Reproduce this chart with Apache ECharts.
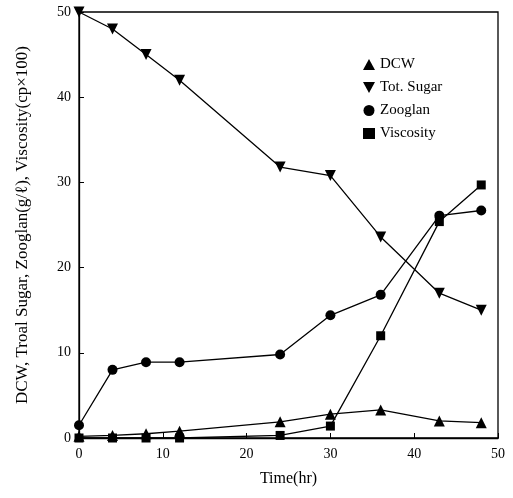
<!DOCTYPE html>
<html>
<head>
<meta charset="utf-8">
<script src="https://cdn.jsdelivr.net/npm/echarts@6/dist/echarts.min.js"></script>
<style>
  html, body { margin: 0; padding: 0; background: #fff; }
  #chart { width: 513px; height: 498px; }
</style>
</head>
<body>
<div id="chart"></div>
<script>
// sampling times (hr)
const times = [0, 4, 8, 12, 24, 30, 36, 43, 48]
const dcw = [0.2, 0.3, 0.5, 0.8, 1.9, 2.8, 3.3, 2.0, 1.8]
const totSugar = [50, 48, 45, 42, 31.8, 30.8, 23.6, 17, 15]
const zooglan = [1.5, 8, 8.9, 8.9, 9.8, 14.4, 16.8, 26.1, 26.7]
const viscosity = [0, 0, 0, 0, 0.3, 1.4, 12, 25.4, 29.7]
const xTicks = [0, 10, 20, 30, 40, 50]
const yTicks = [0, 10, 20, 30, 40, 50]

const font = 'Liberation Serif'
const downTri = 'path://M0,0L10,0L5,9Z'

function pairs(vals) {
  return times.map((t, i) => [t, vals[i]])
}

function series(name, vals, symbol, size, rotate) {
  return {
    name: name,
    type: 'line',
    data: pairs(vals),
    symbol: symbol,
    symbolSize: size,
    symbolRotate: rotate || 0,
    showAllSymbol: true,
    lineStyle: { color: '#000', width: 1.3 },
    itemStyle: { color: '#000' },
    z: 3
  }
}

const chart = echarts.init(document.getElementById('chart'))
chart.setOption({
  animation: false,
  grid: {
    left: 79, right: 15, top: 12, bottom: 60,
    show: true, borderColor: '#000', borderWidth: 1.3
  },
  legend: {
    orient: 'vertical',
    left: 358, top: 52,
    itemWidth: 12, itemHeight: 11, itemGap: 8,
    textStyle: { fontFamily: font, fontSize: 15, color: '#000' },
    data: [
      { name: 'DCW', icon: 'triangle' },
      { name: 'Tot. Sugar', icon: downTri },
      { name: 'Zooglan', icon: 'circle' },
      { name: 'Viscosity', icon: 'rect' }
    ]
  },
  xAxis: {
    type: 'value',
    min: xTicks[0], max: xTicks[xTicks.length - 1], interval: 10,
    name: 'Time(hr)',
    nameLocation: 'middle', nameGap: 33,
    nameTextStyle: { fontFamily: font, fontSize: 16, color: '#000' },
    axisLine: { lineStyle: { color: '#000', width: 1.3 } },
    axisTick: { inside: true, length: 5, lineStyle: { color: '#000' } },
    axisLabel: { fontFamily: font, fontSize: 14, color: '#000', margin: 9 },
    splitLine: { show: false }
  },
  yAxis: {
    type: 'value',
    min: yTicks[0], max: yTicks[yTicks.length - 1], interval: 10,
    name: 'DCW, Troal Sugar, Zooglan(g/ℓ), Viscosity(cp×100)',
    nameLocation: 'middle', nameGap: 48,
    nameTextStyle: { fontFamily: font, fontSize: 17, color: '#000' },
    axisLine: { lineStyle: { color: '#000', width: 1.3 } },
    axisTick: { inside: true, length: 5, lineStyle: { color: '#000' } },
    axisLabel: { fontFamily: font, fontSize: 14, color: '#000', margin: 8 },
    splitLine: { show: false }
  },
  series: [
    series('DCW', dcw, 'triangle', 11),
    series('Tot. Sugar', totSugar, 'triangle', 11, 180),
    series('Zooglan', zooglan, 'circle', 10),
    series('Viscosity', viscosity, 'rect', 9)
  ]
})
</script>
</body>
</html>
